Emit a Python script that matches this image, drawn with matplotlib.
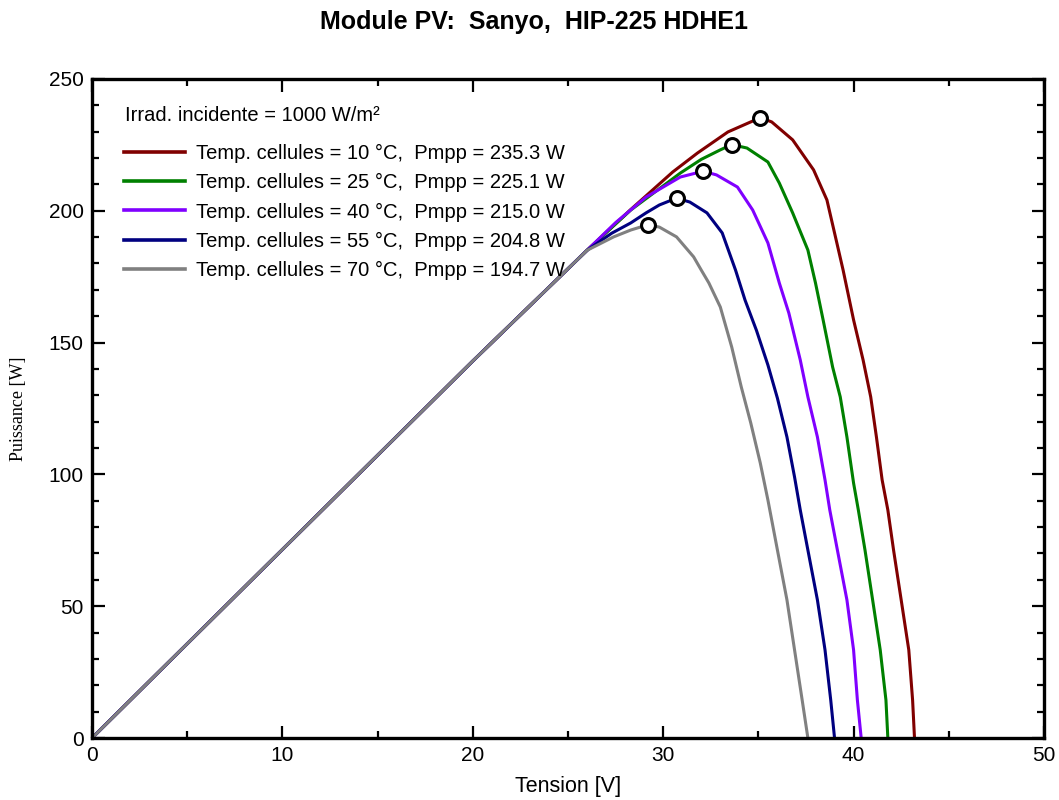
import matplotlib.pyplot as plt
from matplotlib.ticker import MultipleLocator

# P-V curves (Tension [V], Puissance [W])
v_10 = [0, 10, 20, 26.0, 28.3, 30.5, 31.8, 33.4, 35.1, 35.7, 36.8, 37.9, 38.6, 39.0, 39.45, 40.0, 40.5,
        40.9, 41.2, 41.5, 41.8, 42.1, 42.5, 42.9, 43.1, 43.2]
p_10 = [0, 71.5, 143, 185, 200.5, 214.7, 221.9, 229.9, 235.3, 233.7, 226.9, 215.5, 204.1, 191.6, 177.5, 158.6, 143.4,
        129.4, 114.2, 97.9, 86.5, 71.3, 52.4, 33.4, 14.4, 0]

v_25 = [0, 10, 20, 26.0, 28.3, 30.9, 32.0, 33.0, 33.6, 34.4, 35.5, 36.1, 36.8, 37.6, 38.0, 38.4, 38.9,
        39.3, 39.65, 40.0, 40.25, 40.6, 41.0, 41.4, 41.7, 41.8]
p_25 = [0, 71.5, 143, 185, 200.3, 214.3, 219.5, 223.1, 225.1, 223.8, 218.5, 210.5, 199.2, 185.1, 172.6, 158.6, 140.7,
        129.4, 114.2, 96.7, 86.5, 71.3, 52.4, 33.4, 14.4, 0]

v_40 = [0, 10, 20, 26.0, 27.5, 29.1, 30.0, 30.9, 32.1, 32.8, 33.9, 34.7, 35.5, 36.1, 36.6, 37.2, 37.6,
        38.1, 38.5, 38.75, 39.15, 39.65, 40.0, 40.2, 40.4]
p_40 = [0, 71.5, 143, 185, 195.5, 205.2, 209.0, 212.8, 215.0, 213.6, 209.0, 200.3, 187.8, 172.6, 161.2, 143.4, 129.4,
        114.2, 97.9, 86.5, 71.3, 52.4, 33.4, 14.4, 0]

v_55 = [0, 10, 20, 26.0, 27.3, 28.3, 29.1, 29.8, 30.7, 31.4, 32.3, 33.1, 33.8, 34.3, 34.9, 35.5, 36.0,
        36.5, 36.9, 37.2, 37.6, 38.1, 38.5, 38.8, 39.0]
p_55 = [0, 71.5, 143, 185, 191.5, 195.4, 199.2, 202.2, 204.8, 203.3, 199.2, 191.6, 177.5, 166.1, 154.6, 141.5, 128.9,
        114.2, 99.0, 86.5, 71.3, 52.4, 33.4, 14.4, 0]

v_70 = [0, 10, 20, 26.0, 27.4, 28.3, 29.2, 29.8, 30.7, 31.6, 32.0, 32.4, 33.0, 33.6, 34.1, 34.6, 35.1,
        35.5, 36.0, 36.5, 36.9, 37.3, 37.6]
p_70 = [0, 71.5, 143, 185, 190.1, 192.7, 194.7, 193.8, 190.1, 182.5, 177.5, 172.6, 163.5, 148.3, 133.2, 119.5, 104.3,
        90.3, 71.3, 52.4, 33.4, 14.4, 0]

temps = [10, 25, 40, 55, 70]
pmpp = [235.3, 225.1, 215.0, 204.8, 194.7]
vmpp = [35.1, 33.6, 32.1, 30.7, 29.2]
colors = ['#800000', '#008000', '#8000ff', '#000080', '#808080']

curves = [(v_10, p_10), (v_25, p_25), (v_40, p_40), (v_55, p_55), (v_70, p_70)]

plt.rcParams['font.family'] = ['Liberation Sans', 'DejaVu Sans']

fig = plt.figure(figsize=(10.59, 8), dpi=100)
ax = fig.add_axes([0.0869, 0.0775, 0.8989, 0.8238])

for (v, p), t, pm, c in zip(curves, temps, pmpp, colors):
    ax.plot(v, p, color=c, lw=2.2,
            label=f"Temp. cellules = {t} \u00b0C,  Pmpp = {pm:.1f} W")

for vm, pm in zip(vmpp, pmpp):
    ax.plot(vm, pm, 'o', ms=10, mfc='white', mec='black', mew=2.2, zorder=5)

ax.set_xlim(0, 50)
ax.set_ylim(0, 250)
ax.xaxis.set_major_locator(MultipleLocator(10))
ax.xaxis.set_minor_locator(MultipleLocator(5))
ax.yaxis.set_major_locator(MultipleLocator(50))
ax.yaxis.set_minor_locator(MultipleLocator(10))
ax.tick_params(which='both', direction='in', top=True, right=True, labelsize=15, width=1.6)
ax.tick_params(which='major', length=9, pad=6)
ax.tick_params(which='minor', length=5)
for s in ax.spines.values():
    s.set_linewidth(2.4)

ax.set_xlabel("Tension [V]", fontsize=15.5)
ax.xaxis.set_label_coords(0.5, -0.058)
ax.set_ylabel("Puissance [W]", fontsize=13, family='Liberation Serif')
ax.yaxis.set_label_coords(-0.068, 0.5)

fig.suptitle("Module PV:  Sanyo,  HIP-225 HDHE1", fontsize=18, fontweight='bold', x=0.504, y=0.988)

ax.text(0.0347, 0.945, "Irrad. incidente = 1000 W/m\u00b2", transform=ax.transAxes,
        fontsize=14.5, va='center', ha='left')
leg = ax.legend(loc='upper left', bbox_to_anchor=(0.034, 0.901), frameon=False, fontsize=14.5,
                handlelength=3.0, handletextpad=0.55, labelspacing=0.5, borderaxespad=0,
                borderpad=0)
for line in leg.get_lines():
    line.set_linewidth(2.6)

fig.savefig("out.png", dpi=100)
